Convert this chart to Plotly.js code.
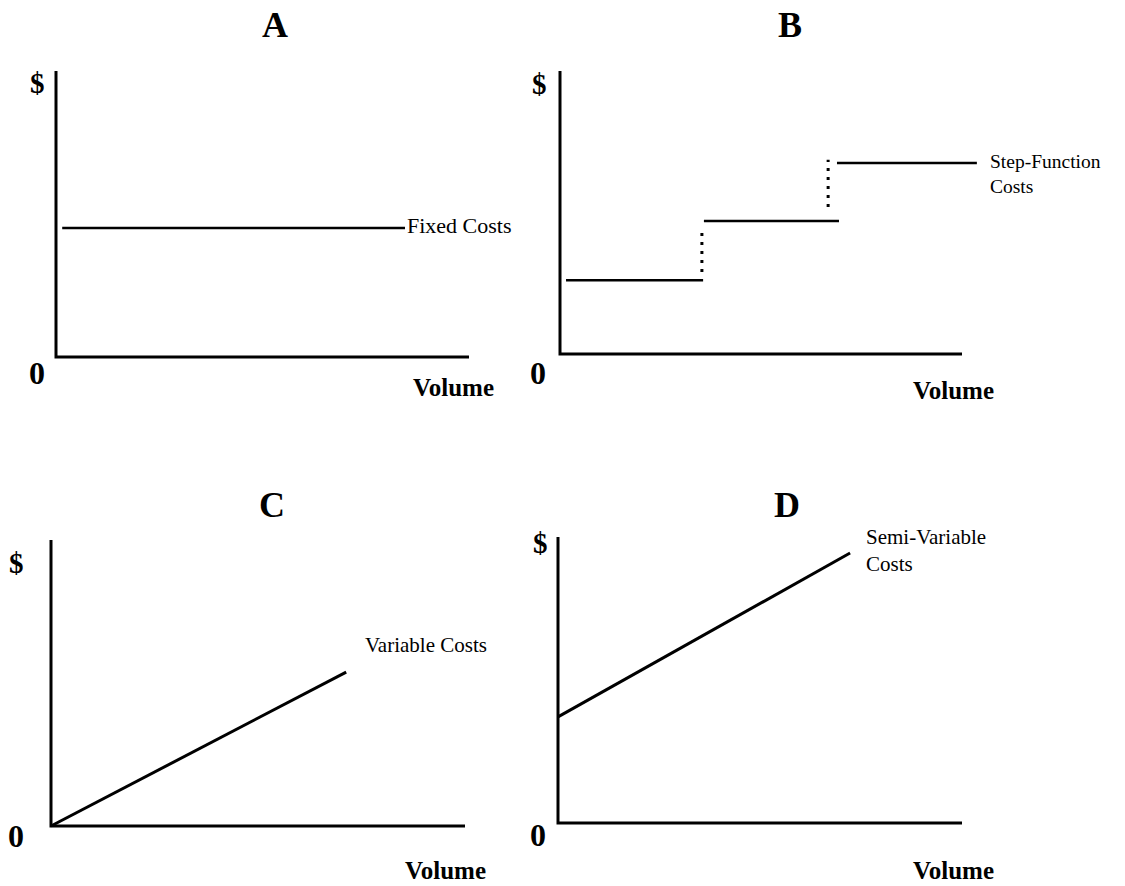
<!DOCTYPE html>
<html>
<head>
<meta charset="utf-8">
<script src="https://cdn.plot.ly/plotly-3.0.1.min.js"></script>
<style>html,body{margin:0;padding:0;background:#fff;}#chart{width:1125px;height:886px;}</style>
</head>
<body>
<div id="chart"></div>
<script>
// ---- data (axis units: 0..100 along each axis) ----
var panelTitles = ["A", "B", "C", "D"];
var axisX = [0, 0, 100];
var axisY = [100, 0, 0];

var fixedX = [1.5, 84.5];
var fixedY = [45.1, 45.1];

var step1X = [1.5, 35.6];   var step1Y = [26.1, 26.1];
var step2X = [35.8, 69.4];  var step2Y = [47.0, 47.0];
var step3X = [68.9, 103.7]; var step3Y = [67.5, 67.5];
var jump1X = [35.3, 35.3];  var jump1Y = [29.0, 44.5];
var jump2X = [66.7, 66.7];  var jump2Y = [51.9, 68.6];

var variableX = [0, 71.3];
var variableY = [0, 53.8];

var semiX = [0, 72.3];
var semiY = [37.1, 94.4];

// ---- layout helpers ----
var W = 1125, H = 886;
var RX = [-5, 112], RY = [-5, 106];
// pixel geometry of each panel's axes: left, right, top, bottom
var geo = [
  {L: 56, R: 469, T: 71, B: 357},
  {L: 560, R: 962, T: 71, B: 354},
  {L: 51, R: 465, T: 540, B: 826},
  {L: 558, R: 962, T: 537, B: 823}
];
function px(x){ return x / W; }
function py(y){ return 1 - y / H; }

var layout = {
  width: W, height: H,
  margin: {l: 0, r: 0, t: 0, b: 0},
  paper_bgcolor: "#fff", plot_bgcolor: "rgba(0,0,0,0)",
  showlegend: false,
  font: {family: "Liberation Serif, Times New Roman, serif", color: "#000"},
  annotations: []
};
geo.forEach(function(g, i){
  var sx = (g.R - g.L) / 100, sy = (g.B - g.T) / 100;
  var x0 = g.L + RX[0] * sx, x1 = g.L + RX[1] * sx;
  var y0 = g.B - RY[0] * sy, y1 = g.B - RY[1] * sy;
  var n = i === 0 ? "" : String(i + 1);
  var ax = {range: RX, domain: [px(x0), px(x1)], visible: false, fixedrange: true};
  var ay = {range: RY, domain: [py(y0), py(y1)], visible: false, fixedrange: true};
  ax.anchor = "y" + n; ay.anchor = "x" + n;
  layout["xaxis" + n] = ax;
  layout["yaxis" + n] = ay;
});

var traces = [];
function line(p, xs, ys, opts){
  var n = p === 0 ? "" : String(p + 1);
  traces.push({
    type: "scatter", mode: "lines", x: xs, y: ys,
    xaxis: "x" + n, yaxis: "y" + n, hoverinfo: "skip",
    line: Object.assign({color: "#000", width: 3}, opts || {})
  });
}
for (var p = 0; p < 4; p++) line(p, axisX, axisY, {width: 3});
line(0, fixedX, fixedY, {width: 2.5});
line(1, step1X, step1Y, {width: 2.5});
line(1, step2X, step2Y, {width: 2.5});
line(1, step3X, step3Y, {width: 2.5});
line(1, jump1X, jump1Y, {width: 3, dash: "3px,6px"});
line(1, jump2X, jump2Y, {width: 3, dash: "3px,6px"});
line(2, variableX, variableY, {width: 3});
line(3, semiX, semiY, {width: 3});

function ann(text, x, y, size, bold, xanchor){
  layout.annotations.push({
    text: bold ? "<b>" + text + "</b>" : text,
    x: px(x), y: py(y), xref: "paper", yref: "paper",
    xanchor: xanchor || "center", yanchor: "middle", align: "left",
    showarrow: false,
    font: {family: "Liberation Serif, Times New Roman, serif", size: size, color: "#000"}
  });
}
var titlePos = [[275, 25], [790, 25], [272, 505], [787, 505]];
var dollarPos = [[37, 83], [539, 84], [16, 563], [540, 543]];
var zeroPos = [[37, 373], [538, 373], [16, 836], [538, 835]];
var volumePos = [[453, 387], [953, 390], [445, 870], [953, 870]];
for (var k = 0; k < 4; k++){
  ann(panelTitles[k], titlePos[k][0], titlePos[k][1], 36, true);
  ann("$", dollarPos[k][0], dollarPos[k][1], 29, true);
  ann("0", zeroPos[k][0], zeroPos[k][1], 32, true);
  ann("Volume", volumePos[k][0], volumePos[k][1], 25, true);
}
ann("Fixed Costs", 405, 226, 22, false, "left");
ann("Step-Function<br>Costs", 988, 174, 19.5, false, "left");
ann("Variable Costs", 363, 645, 21, false, "left");
ann("Semi-Variable<br>Costs", 864, 550, 21, false, "left");

Plotly.newPlot("chart", traces, layout, {staticPlot: true, displayModeBar: false});
</script>
</body>
</html>
